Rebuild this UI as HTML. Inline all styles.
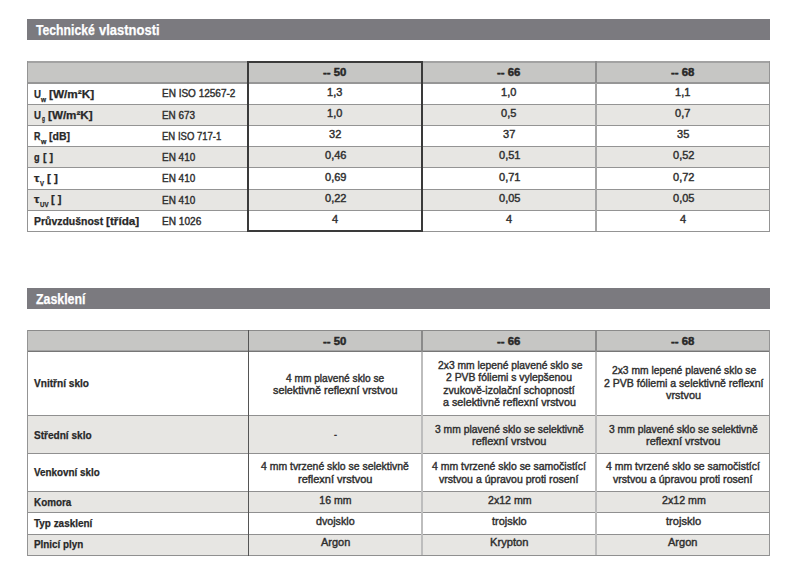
<!DOCTYPE html>
<html><head><meta charset="utf-8"><style>
html,body{margin:0;padding:0;background:#fff;width:800px;height:578px;overflow:hidden}
.r{position:absolute}
.t{position:absolute;white-space:nowrap;font-family:"Liberation Sans",sans-serif;transform-origin:0 0}
.n{-webkit-text-stroke:0.4px currentColor}
.b{-webkit-text-stroke:0.25px currentColor}
</style></head><body>
<div class="r" style="left:27px;top:19px;width:743px;height:21px;background:#7b7a7f"></div>
<div class="r" style="left:27px;top:288px;width:743px;height:21px;background:#7b7a7f"></div>
<div class="r" style="left:27px;top:61px;width:743px;height:22px;background:#c6c6c4"></div>
<div class="r" style="left:27px;top:105px;width:743px;height:20px;background:#e7e6e3"></div>
<div class="r" style="left:27px;top:147px;width:743px;height:20px;background:#e7e6e3"></div>
<div class="r" style="left:27px;top:190px;width:743px;height:20px;background:#e7e6e3"></div>
<div class="r" style="left:27px;top:61px;width:743px;height:2px;background:#a2a2a2"></div>
<div class="r" style="left:27px;top:82px;width:743px;height:2px;background:#969696"></div>
<div class="r" style="left:27px;top:104px;width:743px;height:1px;background:#949494"></div>
<div class="r" style="left:27px;top:125px;width:743px;height:1px;background:#949494"></div>
<div class="r" style="left:27px;top:146px;width:743px;height:1px;background:#949494"></div>
<div class="r" style="left:27px;top:167px;width:743px;height:1px;background:#949494"></div>
<div class="r" style="left:27px;top:189px;width:743px;height:1px;background:#949494"></div>
<div class="r" style="left:27px;top:210px;width:743px;height:1px;background:#949494"></div>
<div class="r" style="left:27px;top:231px;width:743px;height:1px;background:#949494"></div>
<div class="r" style="left:27px;top:61px;width:1px;height:171px;background:#949494"></div>
<div class="r" style="left:769px;top:61px;width:1px;height:171px;background:#949494"></div>
<div class="r" style="left:595px;top:61px;width:2px;height:22px;background:#8e8e8e"></div>
<div class="r" style="left:595px;top:83px;width:2px;height:148px;background:#a6a6a6"></div>
<div class="r" style="left:247px;top:61px;width:176px;height:2px;background:#3a3a3a"></div>
<div class="r" style="left:247px;top:230px;width:176px;height:2px;background:#3a3a3a"></div>
<div class="r" style="left:247px;top:61px;width:2px;height:171px;background:#3a3a3a"></div>
<div class="r" style="left:421px;top:61px;width:2px;height:171px;background:#3a3a3a"></div>
<div class="r" style="left:27px;top:330px;width:743px;height:21px;background:#c6c6c4"></div>
<div class="r" style="left:27px;top:416px;width:743px;height:37px;background:#e7e6e3"></div>
<div class="r" style="left:27px;top:492px;width:743px;height:20px;background:#e7e6e3"></div>
<div class="r" style="left:27px;top:535px;width:743px;height:20px;background:#e7e6e3"></div>
<div class="r" style="left:27px;top:330px;width:743px;height:1px;background:#8a8a8a"></div>
<div class="r" style="left:27px;top:350px;width:743px;height:1px;background:#a4a4a4"></div>
<div class="r" style="left:27px;top:351px;width:743px;height:1px;background:#767676"></div>
<div class="r" style="left:27px;top:415px;width:743px;height:1px;background:#909090"></div>
<div class="r" style="left:27px;top:453px;width:743px;height:1px;background:#909090"></div>
<div class="r" style="left:27px;top:491px;width:743px;height:1px;background:#909090"></div>
<div class="r" style="left:27px;top:512px;width:743px;height:1px;background:#909090"></div>
<div class="r" style="left:27px;top:534px;width:743px;height:1px;background:#909090"></div>
<div class="r" style="left:27px;top:555px;width:743px;height:1px;background:#909090"></div>
<div class="r" style="left:27px;top:330px;width:1px;height:226px;background:#949494"></div>
<div class="r" style="left:769px;top:330px;width:1px;height:226px;background:#949494"></div>
<div class="r" style="left:248px;top:330px;width:1px;height:226px;background:#555"></div>
<div class="r" style="left:421px;top:330px;width:2px;height:22px;background:#8a8a8a"></div>
<div class="r" style="left:421px;top:352px;width:2px;height:203px;background:#bdbdbd"></div>
<div class="r" style="left:595px;top:330px;width:2px;height:22px;background:#8a8a8a"></div>
<div class="r" style="left:595px;top:352px;width:2px;height:203px;background:#bdbdbd"></div>
<div class="t b" style="left:36.30px;top:22.60px;font-weight:700;font-size:14.3px;line-height:14.3px;color:#fff;transform:scaleX(0.8536);">Technické</div>
<div class="t b" style="left:99.40px;top:22.60px;font-weight:700;font-size:14.3px;line-height:14.3px;color:#fff;transform:scaleX(0.9076);">vlastnosti</div>
<div class="t b" style="left:35.90px;top:291.50px;font-weight:700;font-size:14.3px;line-height:14.3px;color:#fff;transform:scaleX(0.8638);">Zasklení</div>
<div class="t b" style="left:323.30px;top:67.20px;font-weight:700;font-size:10.5px;line-height:10.5px;color:#282828;transform:scaleX(1.0818);-webkit-text-stroke:0.45px currentColor">-- 50</div>
<div class="t b" style="left:497.00px;top:67.20px;font-weight:700;font-size:10.5px;line-height:10.5px;color:#282828;transform:scaleX(1.0818);-webkit-text-stroke:0.45px currentColor">-- 66</div>
<div class="t b" style="left:671.10px;top:67.20px;font-weight:700;font-size:10.5px;line-height:10.5px;color:#282828;transform:scaleX(1.0818);-webkit-text-stroke:0.45px currentColor">-- 68</div>
<div class="t b" style="left:34.00px;top:88.50px;font-weight:700;font-size:11px;line-height:11px;color:#282828;transform:scaleX(0.8750);">U</div>
<div class="t b" style="left:41.30px;top:95.50px;font-weight:700;font-size:7.5px;line-height:7.5px;color:#282828;transform:scaleX(0.8667);">w</div>
<div class="t b" style="left:49.00px;top:88.50px;font-weight:700;font-size:11px;line-height:11px;color:#282828;transform:scaleX(1.0714);">[W/m²K]</div>
<div class="t b" style="left:34.00px;top:109.70px;font-weight:700;font-size:11px;line-height:11px;color:#282828;transform:scaleX(0.8750);">U</div>
<div class="t b" style="left:42.00px;top:115.20px;font-weight:700;font-size:7.5px;line-height:7.5px;color:#282828;transform:scaleX(0.6400);">g</div>
<div class="t b" style="left:47.50px;top:109.70px;font-weight:700;font-size:11px;line-height:11px;color:#282828;transform:scaleX(1.0595);">[W/m²K]</div>
<div class="t b" style="left:34.00px;top:131.20px;font-weight:700;font-size:11px;line-height:11px;color:#282828;transform:scaleX(0.8125);">R</div>
<div class="t b" style="left:41.00px;top:137.50px;font-weight:700;font-size:7.5px;line-height:7.5px;color:#282828;transform:scaleX(0.9167);">w</div>
<div class="t b" style="left:49.00px;top:131.20px;font-weight:700;font-size:11px;line-height:11px;color:#282828;transform:scaleX(0.9545);">[dB]</div>
<div class="t b" style="left:34.00px;top:151.50px;font-weight:700;font-size:11px;line-height:11px;color:#282828;transform:scaleX(0.8333);">g</div>
<div class="t b" style="left:42.80px;top:151.80px;font-weight:700;font-size:11px;line-height:11px;color:#282828;transform:scaleX(0.9700);">[ ]</div>
<div class="t b" style="left:34.00px;top:173.00px;font-weight:700;font-size:11px;line-height:11px;color:#282828;transform:scaleX(1.1000);">τ</div>
<div class="t b" style="left:40.00px;top:180.00px;font-weight:700;font-size:7.5px;line-height:7.5px;color:#282828;transform:scaleX(0.8000);">V</div>
<div class="t b" style="left:46.50px;top:173.00px;font-weight:700;font-size:11px;line-height:11px;color:#282828;transform:scaleX(1.0500);">[ ]</div>
<div class="t b" style="left:34.00px;top:193.80px;font-weight:700;font-size:11px;line-height:11px;color:#282828;transform:scaleX(1.1000);">τ</div>
<div class="t b" style="left:39.50px;top:201.00px;font-weight:700;font-size:7.5px;line-height:7.5px;color:#282828;transform:scaleX(0.8182);">UV</div>
<div class="t b" style="left:51.00px;top:194.20px;font-weight:700;font-size:11px;line-height:11px;color:#282828;transform:scaleX(1.0000);">[ ]</div>
<div class="t b" style="left:34.00px;top:215.60px;font-weight:700;font-size:11px;line-height:11px;color:#282828;transform:scaleX(0.9507);">Průvzdušnost</div>
<div class="t b" style="left:106.20px;top:215.60px;font-weight:700;font-size:11px;line-height:11px;color:#282828;transform:scaleX(1.0677);">[třída]</div>
<div class="t n" style="left:161.70px;top:88.30px;font-weight:400;font-size:10.5px;line-height:10.5px;color:#2e2e2e;transform:scaleX(0.9519);">EN ISO 12567-2</div>
<div class="t n" style="left:161.70px;top:109.70px;font-weight:400;font-size:10.5px;line-height:10.5px;color:#2e2e2e;transform:scaleX(0.9429);">EN 673</div>
<div class="t n" style="left:161.70px;top:130.70px;font-weight:400;font-size:10.5px;line-height:10.5px;color:#2e2e2e;transform:scaleX(0.9077);">EN ISO 717-1</div>
<div class="t n" style="left:161.70px;top:152.10px;font-weight:400;font-size:10.5px;line-height:10.5px;color:#2e2e2e;transform:scaleX(0.9486);">EN 410</div>
<div class="t n" style="left:161.70px;top:173.30px;font-weight:400;font-size:10.5px;line-height:10.5px;color:#2e2e2e;transform:scaleX(0.9486);">EN 410</div>
<div class="t n" style="left:161.70px;top:194.50px;font-weight:400;font-size:10.5px;line-height:10.5px;color:#2e2e2e;transform:scaleX(0.9486);">EN 410</div>
<div class="t n" style="left:161.70px;top:215.70px;font-weight:400;font-size:10.5px;line-height:10.5px;color:#2e2e2e;transform:scaleX(0.9634);">EN 1026</div>
<div class="t n" style="left:327.32px;top:86.80px;font-weight:400;font-size:10.5px;line-height:10.5px;color:#2e2e2e;transform:scaleX(1.0500);">1,3</div>
<div class="t n" style="left:327.32px;top:108.00px;font-weight:400;font-size:10.5px;line-height:10.5px;color:#2e2e2e;transform:scaleX(1.0500);">1,0</div>
<div class="t n" style="left:328.90px;top:129.20px;font-weight:400;font-size:10.5px;line-height:10.5px;color:#2e2e2e;transform:scaleX(1.0500);">32</div>
<div class="t n" style="left:324.70px;top:150.40px;font-weight:400;font-size:10.5px;line-height:10.5px;color:#2e2e2e;transform:scaleX(1.0500);">0,46</div>
<div class="t n" style="left:324.70px;top:171.60px;font-weight:400;font-size:10.5px;line-height:10.5px;color:#2e2e2e;transform:scaleX(1.0500);">0,69</div>
<div class="t n" style="left:324.70px;top:192.80px;font-weight:400;font-size:10.5px;line-height:10.5px;color:#2e2e2e;transform:scaleX(1.0500);">0,22</div>
<div class="t n" style="left:332.05px;top:214.00px;font-weight:400;font-size:10.5px;line-height:10.5px;color:#2e2e2e;transform:scaleX(1.0500);">4</div>
<div class="t n" style="left:501.23px;top:86.80px;font-weight:400;font-size:10.5px;line-height:10.5px;color:#2e2e2e;transform:scaleX(1.0500);">1,0</div>
<div class="t n" style="left:501.23px;top:108.00px;font-weight:400;font-size:10.5px;line-height:10.5px;color:#2e2e2e;transform:scaleX(1.0500);">0,5</div>
<div class="t n" style="left:502.80px;top:129.20px;font-weight:400;font-size:10.5px;line-height:10.5px;color:#2e2e2e;transform:scaleX(1.0500);">37</div>
<div class="t n" style="left:498.60px;top:150.40px;font-weight:400;font-size:10.5px;line-height:10.5px;color:#2e2e2e;transform:scaleX(1.0500);">0,51</div>
<div class="t n" style="left:498.60px;top:171.60px;font-weight:400;font-size:10.5px;line-height:10.5px;color:#2e2e2e;transform:scaleX(1.0500);">0,71</div>
<div class="t n" style="left:498.60px;top:192.80px;font-weight:400;font-size:10.5px;line-height:10.5px;color:#2e2e2e;transform:scaleX(1.0500);">0,05</div>
<div class="t n" style="left:505.95px;top:214.00px;font-weight:400;font-size:10.5px;line-height:10.5px;color:#2e2e2e;transform:scaleX(1.0500);">4</div>
<div class="t n" style="left:675.12px;top:86.80px;font-weight:400;font-size:10.5px;line-height:10.5px;color:#2e2e2e;transform:scaleX(1.0500);">1,1</div>
<div class="t n" style="left:675.12px;top:108.00px;font-weight:400;font-size:10.5px;line-height:10.5px;color:#2e2e2e;transform:scaleX(1.0500);">0,7</div>
<div class="t n" style="left:676.70px;top:129.20px;font-weight:400;font-size:10.5px;line-height:10.5px;color:#2e2e2e;transform:scaleX(1.0500);">35</div>
<div class="t n" style="left:672.50px;top:150.40px;font-weight:400;font-size:10.5px;line-height:10.5px;color:#2e2e2e;transform:scaleX(1.0500);">0,52</div>
<div class="t n" style="left:672.50px;top:171.60px;font-weight:400;font-size:10.5px;line-height:10.5px;color:#2e2e2e;transform:scaleX(1.0500);">0,72</div>
<div class="t n" style="left:672.50px;top:192.80px;font-weight:400;font-size:10.5px;line-height:10.5px;color:#2e2e2e;transform:scaleX(1.0500);">0,05</div>
<div class="t n" style="left:679.85px;top:214.00px;font-weight:400;font-size:10.5px;line-height:10.5px;color:#2e2e2e;transform:scaleX(1.0500);">4</div>
<div class="t b" style="left:323.10px;top:335.70px;font-weight:700;font-size:10.5px;line-height:10.5px;color:#282828;transform:scaleX(1.0818);-webkit-text-stroke:0.45px currentColor">-- 50</div>
<div class="t b" style="left:497.10px;top:335.70px;font-weight:700;font-size:10.5px;line-height:10.5px;color:#282828;transform:scaleX(1.0818);-webkit-text-stroke:0.45px currentColor">-- 66</div>
<div class="t b" style="left:671.10px;top:335.70px;font-weight:700;font-size:10.5px;line-height:10.5px;color:#282828;transform:scaleX(1.0818);-webkit-text-stroke:0.45px currentColor">-- 68</div>
<div class="t b" style="left:34.00px;top:378.30px;font-weight:700;font-size:10.8px;line-height:10.8px;color:#282828;transform:scaleX(0.9356);">Vnitřní sklo</div>
<div class="t b" style="left:34.00px;top:429.50px;font-weight:700;font-size:10.8px;line-height:10.8px;color:#282828;transform:scaleX(0.9315);">Střední sklo</div>
<div class="t b" style="left:34.00px;top:467.30px;font-weight:700;font-size:10.8px;line-height:10.8px;color:#282828;transform:scaleX(0.9125);">Venkovní sklo</div>
<div class="t b" style="left:34.00px;top:496.80px;font-weight:700;font-size:10.8px;line-height:10.8px;color:#282828;transform:scaleX(0.9146);">Komora</div>
<div class="t b" style="left:34.00px;top:517.80px;font-weight:700;font-size:10.8px;line-height:10.8px;color:#282828;transform:scaleX(0.9187);">Typ zasklení</div>
<div class="t b" style="left:34.00px;top:538.80px;font-weight:700;font-size:10.8px;line-height:10.8px;color:#282828;transform:scaleX(0.9111);">Plnicí plyn</div>
<div class="t n" style="left:286.00px;top:372.50px;font-weight:400;font-size:10.5px;line-height:10.5px;color:#2e2e2e;transform:scaleX(0.9667);">4 mm plavené sklo se</div>
<div class="t n" style="left:273.20px;top:384.60px;font-weight:400;font-size:10.5px;line-height:10.5px;color:#2e2e2e;transform:scaleX(1.0298);">selektivně reflexní vrstvou</div>
<div class="t n" style="left:261.25px;top:461.40px;font-weight:400;font-size:10.5px;line-height:10.5px;color:#2e2e2e;transform:scaleX(0.9936);">4 mm tvrzené sklo se selektivně</div>
<div class="t n" style="left:298.40px;top:473.60px;font-weight:400;font-size:10.5px;line-height:10.5px;color:#2e2e2e;transform:scaleX(1.0451);">reflexní vrstvou</div>
<div class="t n" style="left:319.30px;top:495.40px;font-weight:400;font-size:10.5px;line-height:10.5px;color:#2e2e2e;transform:scaleX(1.0000);">16 mm</div>
<div class="t n" style="left:315.90px;top:515.90px;font-weight:400;font-size:10.5px;line-height:10.5px;color:#2e2e2e;transform:scaleX(1.0184);">dvojsklo</div>
<div class="t n" style="left:320.90px;top:537.10px;font-weight:400;font-size:10.5px;line-height:10.5px;color:#2e2e2e;transform:scaleX(1.0429);">Argon</div>
<div class="t n" style="left:437.70px;top:359.60px;font-weight:400;font-size:10.5px;line-height:10.5px;color:#2e2e2e;transform:scaleX(0.9816);">2x3 mm lepené plavené sklo se</div>
<div class="t n" style="left:446.20px;top:372.00px;font-weight:400;font-size:10.5px;line-height:10.5px;color:#2e2e2e;transform:scaleX(0.9898);">2 PVB fóliemi s vylepšenou</div>
<div class="t n" style="left:443.30px;top:384.60px;font-weight:400;font-size:10.5px;line-height:10.5px;color:#2e2e2e;transform:scaleX(1.0000);">zvukově-izolační schopností</div>
<div class="t n" style="left:443.00px;top:397.20px;font-weight:400;font-size:10.5px;line-height:10.5px;color:#2e2e2e;transform:scaleX(1.0256);">a selektivně reflexní vrstvou</div>
<div class="t n" style="left:435.00px;top:423.60px;font-weight:400;font-size:10.5px;line-height:10.5px;color:#2e2e2e;transform:scaleX(0.9841);">3 mm plavené sklo se selektivně</div>
<div class="t n" style="left:472.00px;top:436.00px;font-weight:400;font-size:10.5px;line-height:10.5px;color:#2e2e2e;transform:scaleX(1.0451);">reflexní vrstvou</div>
<div class="t n" style="left:432.10px;top:461.40px;font-weight:400;font-size:10.5px;line-height:10.5px;color:#2e2e2e;transform:scaleX(0.9948);">4 mm tvrzené sklo se samočistící</div>
<div class="t n" style="left:438.90px;top:474.00px;font-weight:400;font-size:10.5px;line-height:10.5px;color:#2e2e2e;transform:scaleX(1.0036);">vrstvou a úpravou proti rosení</div>
<div class="t n" style="left:487.70px;top:495.40px;font-weight:400;font-size:10.5px;line-height:10.5px;color:#2e2e2e;transform:scaleX(1.0093);">2x12 mm</div>
<div class="t n" style="left:492.20px;top:515.90px;font-weight:400;font-size:10.5px;line-height:10.5px;color:#2e2e2e;transform:scaleX(1.0424);">trojsklo</div>
<div class="t n" style="left:490.20px;top:537.10px;font-weight:400;font-size:10.5px;line-height:10.5px;color:#2e2e2e;transform:scaleX(1.0611);">Krypton</div>
<div class="t n" style="left:611.75px;top:364.90px;font-weight:400;font-size:10.5px;line-height:10.5px;color:#2e2e2e;transform:scaleX(0.9799);">2x3 mm lepené plavené sklo se</div>
<div class="t n" style="left:603.90px;top:377.50px;font-weight:400;font-size:10.5px;line-height:10.5px;color:#2e2e2e;transform:scaleX(1.0044);">2 PVB fóliemi a selektivně reflexní</div>
<div class="t n" style="left:665.75px;top:389.80px;font-weight:400;font-size:10.5px;line-height:10.5px;color:#2e2e2e;transform:scaleX(1.0368);">vrstvou</div>
<div class="t n" style="left:609.00px;top:423.60px;font-weight:400;font-size:10.5px;line-height:10.5px;color:#2e2e2e;transform:scaleX(0.9841);">3 mm plavené sklo se selektivně</div>
<div class="t n" style="left:646.00px;top:436.00px;font-weight:400;font-size:10.5px;line-height:10.5px;color:#2e2e2e;transform:scaleX(1.0451);">reflexní vrstvou</div>
<div class="t n" style="left:606.10px;top:461.40px;font-weight:400;font-size:10.5px;line-height:10.5px;color:#2e2e2e;transform:scaleX(0.9948);">4 mm tvrzené sklo se samočistící</div>
<div class="t n" style="left:612.90px;top:474.00px;font-weight:400;font-size:10.5px;line-height:10.5px;color:#2e2e2e;transform:scaleX(1.0036);">vrstvou a úpravou proti rosení</div>
<div class="t n" style="left:661.50px;top:495.40px;font-weight:400;font-size:10.5px;line-height:10.5px;color:#2e2e2e;transform:scaleX(1.0140);">2x12 mm</div>
<div class="t n" style="left:666.00px;top:515.90px;font-weight:400;font-size:10.5px;line-height:10.5px;color:#2e2e2e;transform:scaleX(1.0545);">trojsklo</div>
<div class="t n" style="left:668.30px;top:537.10px;font-weight:400;font-size:10.5px;line-height:10.5px;color:#2e2e2e;transform:scaleX(1.0500);">Argon</div>
<div class="t n" style="left:334.03px;top:428.90px;font-weight:400;font-size:10.5px;line-height:10.5px;color:#2e2e2e;transform:scaleX(0.8500);">-</div>
</body></html>
